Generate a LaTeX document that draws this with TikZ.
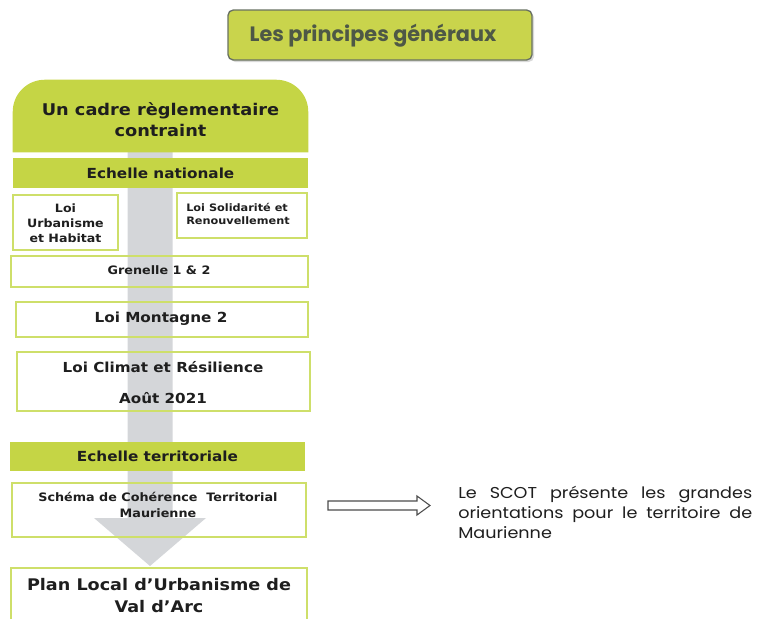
\documentclass[tikz,border=0pt]{standalone}
\usepackage{fontspec}
\setmainfont[FakeStretch=1.1]{DejaVu Sans}
\newfontfamily\gothic{Poppins}
\newfontfamily\gothicw[FakeStretch=1.12]{Poppins}
\usetikzlibrary{fit,backgrounds,shadows}
\definecolor{barg}{HTML}{C5D545}
\definecolor{boxg}{HTML}{CEDF6A}
\definecolor{titg}{HTML}{C9D44C}
\definecolor{titt}{HTML}{4E5846}
\definecolor{arrg}{HTML}{D4D6D9}
\definecolor{txt}{HTML}{1E1E1E}
\newcommand{\jline}[1]{\makebox[220.5pt][s]{#1}}
\begin{document}
\begin{tikzpicture}[x=0.75pt,y=-0.75pt,
  bar/.style={fill=barg, inner sep=0pt},
  wbox/.style={draw=boxg, line width=2.2pt, inner sep=0pt},
  btext/.style={text=txt, align=center, inner sep=0pt},
  hollow/.style={draw=gray!60!black, line width=0.8pt, fill=white}]
\useasboundingbox (0,0) rectangle (757,618);

% title
\node[fit={(228,10) (532,60)}, draw=titt!85, fill=titg, rounded corners=4pt, line width=1pt,
      drop shadow={shadow xshift=1.5pt, shadow yshift=-1.5pt, fill=gray!50, opacity=0.6},
      inner sep=0pt] (title) {};
\node[inner sep=0pt, text=titt, font=\gothic\bfseries\fontsize{15.6}{17}\selectfont] (titletext) at (373,35.5) {Les principes généraux};

% header shape
\node[fit={(13,80) (308,152)}, inner sep=0pt] (hdr) {};
\coordinate (arrtop) at (150,152);
\coordinate (tip) at (150,566);
\begin{scope}[on background layer]
  \fill[arrg] (arrtop) ++(-22.5,0) -- ++(45,0) -- ++(0,366) -- ++(33.5,0) -- (tip) -- ++(-56,-48) -- ++(33.5,0) -- cycle;
  \fill[barg] (hdr.south west) {[rounded corners=24pt] -- (hdr.north west) -- (hdr.north east)} -- (hdr.south east) -- cycle;
\end{scope}
\node[btext, font=\bfseries\fontsize{12.1}{15.8}\selectfont] (hdrtext) at (160.5,119.5) {Un cadre règlementaire\\contraint};

% bars
\node[bar, fit={(13,158) (308,188)}] (natl) {};
\node[btext, font=\bfseries\fontsize{10.4}{12}\selectfont] (natltext) at (natl.center) {Echelle nationale};
\node[bar, fit={(10,442) (305,471)}] (terr) {};
\node[btext, font=\bfseries\fontsize{10.4}{12}\selectfont] (terrtext) at (terr.center) {Echelle territoriale};

% white boxes
\node[wbox, fit={(13,195) (118,250)}] (loiuh) {};
\node[btext, font=\bfseries\fontsize{8.6}{11.2}\selectfont] (loiuhtext) at (65.5,223) {Loi\\Urbanisme\\et Habitat};
\node[wbox, fit={(177,193) (307,238)}] (loisr) {};
\node[btext, align=left, anchor=west, font=\bfseries\fontsize{7.7}{9.8}\selectfont] (loisrtext) at (186,213.5) {Loi Solidarité et\\Renouvellement};
\node[wbox, fit={(11,256) (308,287)}] (gren) {};
\node[btext, font=\bfseries\fontsize{8.7}{10}\selectfont] (grentext) at (159,270.5) {Grenelle 1 \& 2};
\node[wbox, fit={(16,302) (308,337)}] (mont) {};
\node[btext, font=\bfseries\fontsize{10.4}{12}\selectfont] (monttext) at (161,318.5) {Loi Montagne 2};
\node[wbox, fit={(17,352) (310,411)}] (clim) {};
\node[btext, font=\bfseries\fontsize{10.35}{23.2}\selectfont] (climtext) at (163,382.5) {Loi Climat et Résilience\\Août 2021};
\node[wbox, fit={(12,483) (306,537)}] (scot) {};
\node[btext, font=\bfseries\fontsize{8.7}{12}\selectfont] (scottext) at (158,505) {Schéma de Cohérence~~Territorial\\Maurienne};
\node[wbox, fit={(11,568) (307,650)}] (plu) {};
\node[btext, font=\bfseries\fontsize{12}{16.5}\selectfont] (plutext) at (159,596) {Plan Local d’Urbanisme de\\Val d’Arc};

% note
\node[anchor=north west, inner sep=0pt, align=left, text=txt,
      font=\gothicw\fontsize{11.8}{14.9}\selectfont] (note) at (458,486)
  {\jline{Le SCOT présente les grandes}\\\jline{orientations pour le territoire de}\\Maurienne};

% hollow arrow
\coordinate (arrS) at (328,505.5);
\draw[hollow] (arrS) ++(0,-4.5) -- ++(89,0) -- ++(0,-5) -- ++(13,9.5) -- ++(-13,9.5) -- ++(0,-5) -- ++(-89,0) -- cycle;
\end{tikzpicture}
\end{document}
